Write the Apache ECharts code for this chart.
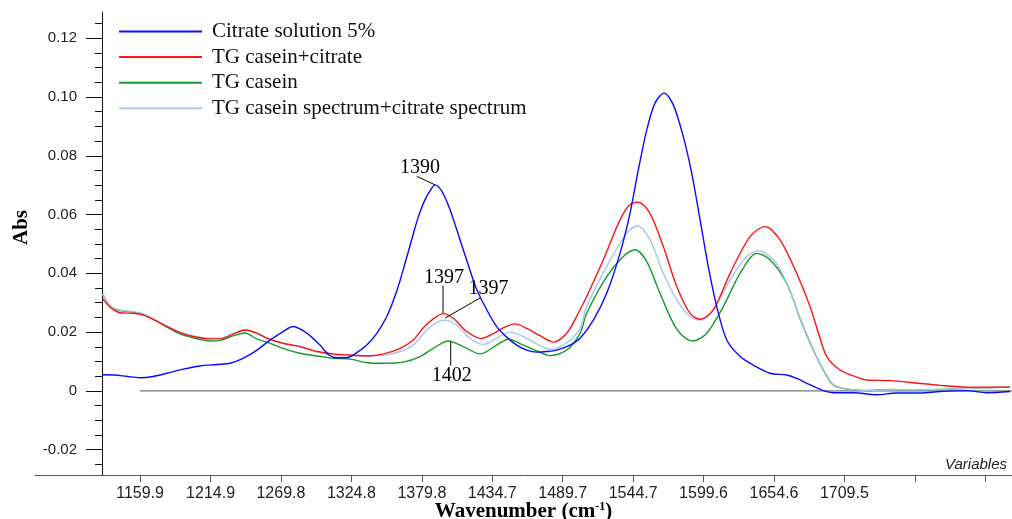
<!DOCTYPE html>
<html>
<head>
<meta charset="utf-8">
<script src="https://cdn.jsdelivr.net/npm/echarts@6/dist/echarts.min.js"></script>
<style>
html,body{margin:0;padding:0;background:#fff;}
#chart{width:1012px;height:519px;}
</style>
</head>
<body>
<div id="chart"></div>
<script>
// ---- data (wavenumber cm-1, absorbance) ----
const seriesNames = ['Citrate solution 5%', 'TG casein+citrate', 'TG casein', 'TG casein spectrum+citrate spectrum'];

const citrateData = [
  [1130.6,0.0055],[1140.0,0.0054],[1150.0,0.0049],[1159.9,0.0045],[1170.0,0.0049],[1180.9,0.0060],
  [1193.4,0.0074],[1206.7,0.0085],[1219.9,0.0090],[1230.1,0.0094],[1240.2,0.0111],[1251.2,0.0139],
  [1261.3,0.0173],[1271.5,0.0202],[1279.3,0.0219],[1290.2,0.0196],[1300.3,0.0156],[1307.3,0.0122],
  [1313.4,0.0113],[1321.2,0.0113],[1329.0,0.0130],[1336.8,0.0156],[1344.6,0.0196],[1352.4,0.0253],
  [1360.2,0.0340],[1366.7,0.0435],[1371.9,0.0515],[1377.0,0.0592],[1382.2,0.0650],[1387.5,0.0690],
  [1390.1,0.0701],[1395.3,0.0680],[1400.4,0.0632],[1404.3,0.0585],[1412.1,0.0480],[1418.5,0.0395],
  [1422.6,0.0345],[1430.4,0.0276],[1438.2,0.0219],[1446.0,0.0183],[1453.8,0.0156],[1461.6,0.0139],
  [1469.4,0.0132],[1477.2,0.0134],[1485.0,0.0139],[1495.4,0.0156],[1503.2,0.0179],[1513.6,0.0241],
  [1524.0,0.0332],[1534.4,0.0468],[1542.2,0.0604],[1548.7,0.0752],[1555.3,0.0888],[1561.7,0.0979],
  [1568.8,0.1013],[1576.0,0.0973],[1583.8,0.0865],[1590.4,0.0740],[1596.9,0.0582],[1603.3,0.0423],
  [1609.9,0.0287],[1617.7,0.0173],[1628.1,0.0117],[1638.4,0.0088],[1651.5,0.0060],[1664.5,0.0054],
  [1672.3,0.0043],[1680.1,0.0026],[1693.1,0.0001],[1700.9,-0.0006],[1716.5,-0.0006],[1734.7,-0.0013],
  [1750.3,-0.0007],[1768.5,-0.0007],[1784.1,-0.0002],[1805.0,0.0001],[1820.6,-0.0006],[1838.8,-0.0002]
];

const caseinCitrateData = [
  [1130.6,0.0315],[1136.5,0.0285],[1144.3,0.0266],[1154.4,0.0264],[1162.2,0.0258],[1170.0,0.0243],
  [1180.9,0.0219],[1191.1,0.0198],[1201.2,0.0185],[1214.5,0.0177],[1222.3,0.0177],[1232.4,0.0193],
  [1241.8,0.0207],[1251.2,0.0196],[1259.0,0.0179],[1271.5,0.0162],[1284.7,0.0151],[1298.0,0.0134],
  [1310.5,0.0126],[1323.7,0.0122],[1337.0,0.0119],[1350.0,0.0126],[1362.8,0.0145],[1373.1,0.0173],
  [1380.9,0.0215],[1388.7,0.0245],[1396.5,0.0263],[1404.3,0.0247],[1414.8,0.0202],[1426.0,0.0178],
  [1435.6,0.0195],[1443.4,0.0215],[1452.5,0.0228],[1461.6,0.0213],[1472.0,0.0188],[1482.4,0.0166],
  [1492.8,0.0196],[1503.2,0.0276],[1508.4,0.0321],[1521.4,0.0446],[1534.4,0.0582],[1542.2,0.0633],
  [1548.7,0.0642],[1557.8,0.0604],[1568.2,0.0491],[1578.7,0.0355],[1589.0,0.0264],[1596.9,0.0244],
  [1607.2,0.0276],[1620.3,0.0400],[1635.9,0.0525],[1647.6,0.0559],[1659.3,0.0514],[1672.3,0.0400],
  [1682.7,0.0287],[1690.5,0.0180],[1695.7,0.0117],[1706.1,0.0071],[1716.5,0.0051],[1726.9,0.0037],
  [1745.1,0.0035],[1763.3,0.0028],[1784.1,0.0019],[1805.0,0.0013],[1838.8,0.0013]
];

const caseinData = [
  [1130.6,0.0330],[1136.5,0.0290],[1144.3,0.0273],[1154.4,0.0268],[1162.2,0.0261],[1170.0,0.0244],
  [1180.9,0.0217],[1191.1,0.0194],[1201.2,0.0181],[1214.5,0.0170],[1222.3,0.0172],[1232.4,0.0187],
  [1241.8,0.0197],[1251.2,0.0176],[1259.0,0.0166],[1271.5,0.0145],[1284.7,0.0128],[1298.0,0.0119],
  [1310.5,0.0111],[1323.7,0.0108],[1337.0,0.0096],[1349.5,0.0094],[1365.3,0.0098],[1378.4,0.0117],
  [1388.7,0.0145],[1400.4,0.0170],[1412.1,0.0151],[1425.2,0.0126],[1438.2,0.0156],[1447.3,0.0176],
  [1459.0,0.0156],[1469.4,0.0136],[1479.8,0.0120],[1492.8,0.0139],[1503.2,0.0196],[1508.4,0.0264],
  [1524.0,0.0389],[1537.0,0.0457],[1546.1,0.0480],[1555.3,0.0440],[1565.6,0.0332],[1576.0,0.0230],
  [1583.8,0.0185],[1591.6,0.0170],[1602.1,0.0196],[1615.0,0.0287],[1628.1,0.0400],[1641.1,0.0468],
  [1651.5,0.0446],[1664.5,0.0366],[1675.5,0.0240],[1685.3,0.0139],[1693.1,0.0071],[1700.9,0.0020],
  [1711.3,0.0006],[1726.9,0.0001],[1745.1,0.0005],[1763.3,0.0003],[1784.1,0.0005],[1805.0,0.0009],
  [1838.8,0.0013]
];

const sumSpectrumData = [
  [1130.6,0.0330],[1136.5,0.0290],[1144.3,0.0275],[1154.4,0.0270],[1162.2,0.0263],[1170.0,0.0246],
  [1180.9,0.0221],[1191.1,0.0199],[1201.2,0.0187],[1214.5,0.0179],[1222.3,0.0179],[1232.4,0.0195],
  [1241.8,0.0209],[1251.2,0.0197],[1259.0,0.0180],[1271.5,0.0162],[1284.7,0.0150],[1298.0,0.0133],
  [1310.5,0.0123],[1323.7,0.0119],[1337.0,0.0119],[1350.0,0.0121],[1362.8,0.0134],[1373.1,0.0156],
  [1383.6,0.0207],[1392.0,0.0235],[1397.9,0.0241],[1407.0,0.0224],[1417.4,0.0179],[1427.8,0.0158],
  [1438.2,0.0180],[1448.6,0.0200],[1459.0,0.0185],[1469.4,0.0160],[1479.8,0.0142],[1492.8,0.0164],
  [1503.2,0.0213],[1508.4,0.0287],[1524.0,0.0423],[1539.6,0.0536],[1547.9,0.0562],[1557.8,0.0514],
  [1568.2,0.0400],[1578.7,0.0310],[1589.0,0.0253],[1596.9,0.0241],[1607.2,0.0276],[1620.3,0.0378],
  [1633.3,0.0457],[1642.3,0.0477],[1654.1,0.0446],[1664.5,0.0368],[1675.5,0.0242],[1685.3,0.0141],
  [1693.1,0.0073],[1700.9,0.0022],[1711.3,0.0007],[1726.9,0.0002],[1745.1,0.0004],[1763.3,0.0004],
  [1784.1,0.0005],[1805.0,0.0009],[1838.8,0.0013]
];

const baselineData = [[1159.9,0],[1840.3,0]];

const xLabelValues = [1159.9,1214.9,1269.8,1324.8,1379.8,1434.7,1489.7,1544.7,1599.6,1654.6,1709.5];
const xTickValues = [1159.9,1214.9,1269.8,1324.8,1379.8,1434.7,1489.7,1544.7,1599.6,1654.6,1709.5,1764.5,1819.4];
const yLabelValues = [-0.02,0,0.02,0.04,0.06,0.08,0.10,0.12];
const yMinorValues = [-0.025,-0.02,-0.015,-0.01,-0.005,0,0.005,0.01,0.015,0.02,0.025,0.03,0.035,0.04,0.045,0.05,0.055,0.06,0.065,0.07,0.075,0.08,0.085,0.09,0.095,0.10,0.105,0.11,0.115,0.12,0.125];

// peak annotations: text, label centre, leader start, leader end (data coords)
const annotText = ['1390','1397','1397','1402'];
const annotLabelPos = [[1378.4,0.0759],[1397.1,0.0385],[1431.7,0.0347],[1403.1,0.0053]];
const annotLineFrom = [[1375.8,0.0730],[1396.3,0.0358],[1425.2,0.0316],[1402.3,0.0086]];
const annotLineTo = [[1390.1,0.0701],[1396.3,0.0265],[1397.9,0.0248],[1402.3,0.0167]];

const colors = ['#0a0aff','#ff1414','#139a2a','#a8c6ea'];

const chart = echarts.init(document.getElementById('chart'));

function mkSeries(name, data, color, z) {
  return {
    name: name, type: 'line', data: data, symbol: 'none', showSymbol: false,
    smooth: 0.3, z: z, animation: false,
    lineStyle: { color: color, width: 1.4 }, itemStyle: { color: color }
  };
}

const option = {
  animation: false,
  grid: { left: 35, right: 0, top: 12, bottom: 44, containLabel: false, outerBoundsMode: 'none' },
  legend: {
    data: seriesNames, orient: 'vertical', left: 113, top: 16,
    itemWidth: 83, itemHeight: 14, itemGap: 4.6,
    itemStyle: { opacity: 0 },
    lineStyle: { width: 2 },
    textStyle: { fontFamily: 'Liberation Serif', fontSize: 21, color: '#111', lineHeight: 21, padding: [0,0,0,5] }
  },
  xAxis: {
    type: 'value', min: 1077.9, max: 1840.3,
    name: '{a|Wavenumber (cm}{s|-1}{a|)}', nameLocation: 'middle', nameGap: 26, nameMoveOverlap: false,
    nameTextStyle: {
      rich: {
        a: { fontFamily: 'Liberation Serif', fontWeight: 'bold', fontSize: 21, color: '#000' },
        s: { fontFamily: 'Liberation Serif', fontWeight: 'bold', fontSize: 12, color: '#000', padding: [0,0,10,0] }
      }
    },
    axisLine: { show: true, onZero: false, lineStyle: { color: '#555', width: 1 } },
    axisTick: { show: true, customValues: xTickValues, length: 7, lineStyle: { color: '#555' } },
    axisLabel: { customValues: xLabelValues, formatter: v => v.toFixed(1), fontFamily: 'Liberation Sans', fontSize: 16, color: '#222', margin: 11 },
    splitLine: { show: false }
  },
  yAxis: [
    {
      type: 'value', position: 'left', min: -0.0286, max: 0.1289, offset: -67,
      name: 'Abs', nameLocation: 'middle', nameRotate: 90, nameGap: 70, nameMoveOverlap: false,
      nameTextStyle: { fontFamily: 'Liberation Serif', fontWeight: 'bold', fontSize: 21, color: '#000', padding: [0,0,0,32] },
      axisLine: { show: true, onZero: false, lineStyle: { color: '#111', width: 1 } },
      axisTick: { show: true, customValues: yLabelValues, length: 16, lineStyle: { color: '#111' } },
      axisLabel: { customValues: yLabelValues, formatter: v => (Math.abs(v) < 1e-9 ? '0' : v.toFixed(2)), fontFamily: 'Liberation Sans', fontSize: 15, color: '#222', margin: 25 },
      splitLine: { show: false }
    },
    {
      type: 'value', position: 'left', min: -0.0286, max: 0.1289, offset: -67,
      axisLine: { show: false, onZero: false },
      axisTick: { show: true, customValues: yMinorValues, length: 7, lineStyle: { color: '#111' } },
      axisLabel: { show: false },
      splitLine: { show: false }
    }
  ],
  series: [
    mkSeries(seriesNames[0], citrateData, colors[0], 5),
    mkSeries(seriesNames[1], caseinCitrateData, colors[1], 4),
    mkSeries(seriesNames[2], caseinData, colors[2], 3),
    mkSeries(seriesNames[3], sumSpectrumData, colors[3], 3.5),
    { name: 'baseline', type: 'line', data: baselineData, symbol: 'none', z: 2,
      lineStyle: { color: '#555', width: 1 }, silent: true }
  ]
};
chart.setOption(option);

function px(p) { return chart.convertToPixel({ xAxisIndex: 0, yAxisIndex: 0 }, p); }
const elements = [
  { type: 'text', right: 5, top: 457, style: { text: 'Variables', font: 'italic 15px "Liberation Sans"', fill: '#222' } }
];
annotText.forEach((t, i) => {
  const lp = px(annotLabelPos[i]);
  const a = px(annotLineFrom[i]);
  const b = px(annotLineTo[i]);
  elements.push({ type: 'line', shape: { x1: a[0], y1: a[1], x2: b[0], y2: b[1] }, style: { stroke: '#000', lineWidth: 1 }, z: 10 });
  elements.push({ type: 'text', x: lp[0], y: lp[1], z: 10,
    style: { text: t, font: '20px "Liberation Serif"', fill: '#000', align: 'center', verticalAlign: 'middle' } });
});
chart.setOption({ graphic: { elements: elements } });
</script>
</body>
</html>
